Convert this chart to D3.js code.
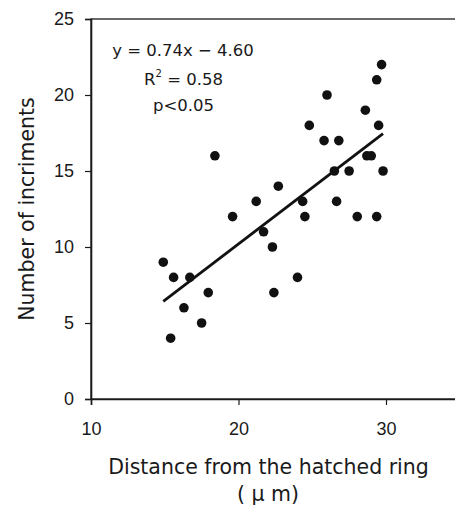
<!DOCTYPE html>
<html><head><meta charset="utf-8">
<script src="https://cdn.jsdelivr.net/npm/d3@7"></script>
<style>
html,body{margin:0;padding:0;background:#fff;}
svg text{font-family:"DejaVu Sans",Verdana,sans-serif;fill:#1a1a1a;}
</style></head><body>
<svg id="c" width="455" height="507"></svg>
<script>
const xVals = [14.9,15.4,15.6,16.3,16.7,17.5,17.95,18.4,19.6,21.2,21.7,22.3,22.4,22.7,24.0,24.35,24.5,24.8,25.8,26.0,26.5,26.65,26.8,27.5,28.05,28.6,28.7,29.0,29.37,29.37,29.5,29.7,29.8];
const yVals = [9,4,8,6,8,5,7,16,12,13,11,10,7,14,8,13,12,18,17,20,15,13,17,15,12,19,16,16,21,12,18,22,15];
const xTicks = [10,20,30];
const yTicks = [0,5,10,15,20,25];
const slope = 0.74, intercept = -4.60;
const eqLines = ["y = 0.74x − 4.60","R","2"," = 0.58","p<0.05"];

const svg = d3.select("#c");
const x = d3.scaleLinear().domain([10,35]).range([91, 459.75]);
const y = d3.scaleLinear().domain([0,25]).range([399, 19]);

// frame
svg.append("rect").attr("x",x(10)).attr("y",y(25)).attr("width",x(35)-x(10)).attr("height",y(0)-y(25))
  .attr("fill","none").attr("stroke","#1a1a1a").attr("stroke-width",1.3);

const xa = svg.append("g").attr("transform",`translate(0,${y(0)})`)
  .call(d3.axisBottom(x).tickValues(xTicks).tickSize(6).tickPadding(17).tickFormat(d3.format("d")));
const ya = svg.append("g").attr("transform",`translate(${x(10)},0)`)
  .call(d3.axisLeft(y).tickValues(yTicks).tickSize(6).tickPadding(11).tickFormat(d3.format("d")));
[xa,ya].forEach(a=>{
  a.select(".domain").attr("stroke","#1a1a1a").attr("stroke-width",1.6);
  a.selectAll(".tick line").attr("stroke","#1a1a1a").attr("stroke-width",1.2);
  a.selectAll(".tick text").style("font-size","18px").style("font-family","'Liberation Sans', Arial, sans-serif").attr("fill","#1a1a1a");
});

// points
const pts = xVals.map((v,i)=>({x:v,y:yVals[i]}));
svg.append("g").selectAll("circle").data(pts).join("circle")
  .attr("cx",d=>x(d.x)).attr("cy",d=>y(d.y)).attr("r",4.8).attr("fill","#111");

// regression line
const xmin = d3.min(xVals), xmax = d3.max(xVals);
svg.append("line").attr("x1",x(xmin)).attr("y1",y(slope*xmin+intercept))
  .attr("x2",x(xmax)).attr("y2",y(slope*xmax+intercept))
  .attr("stroke","#111").attr("stroke-width",2.8);

// equation
const eq = svg.append("g");
eq.append("text").attr("x",183).attr("y",56).attr("text-anchor","middle").style("font-size","16.5px").text(eqLines[0]);
const r2 = eq.append("text").attr("x",183.5).attr("y",85).attr("text-anchor","middle").style("font-size","16.5px");
r2.append("tspan").text(eqLines[1]);
r2.append("tspan").attr("dy",-8).style("font-size","10px").text(eqLines[2]);
r2.append("tspan").attr("dy",8).text(eqLines[3]);
eq.append("text").attr("x",183.5).attr("y",111).attr("text-anchor","middle").style("font-size","16.5px").text(eqLines[4]);

// axis titles
svg.append("text").attr("x",268.5).attr("y",474).attr("text-anchor","middle").style("font-size","20.5px").text("Distance from the hatched ring");
svg.append("text").attr("x",268).attr("y",501).attr("text-anchor","middle").style("font-size","20.5px").text("( μ m)");
svg.append("text").attr("transform","translate(34,209) rotate(-90)").attr("text-anchor","middle").style("font-size","20.5px").text("Number of incriments");
</script>
</body></html>
